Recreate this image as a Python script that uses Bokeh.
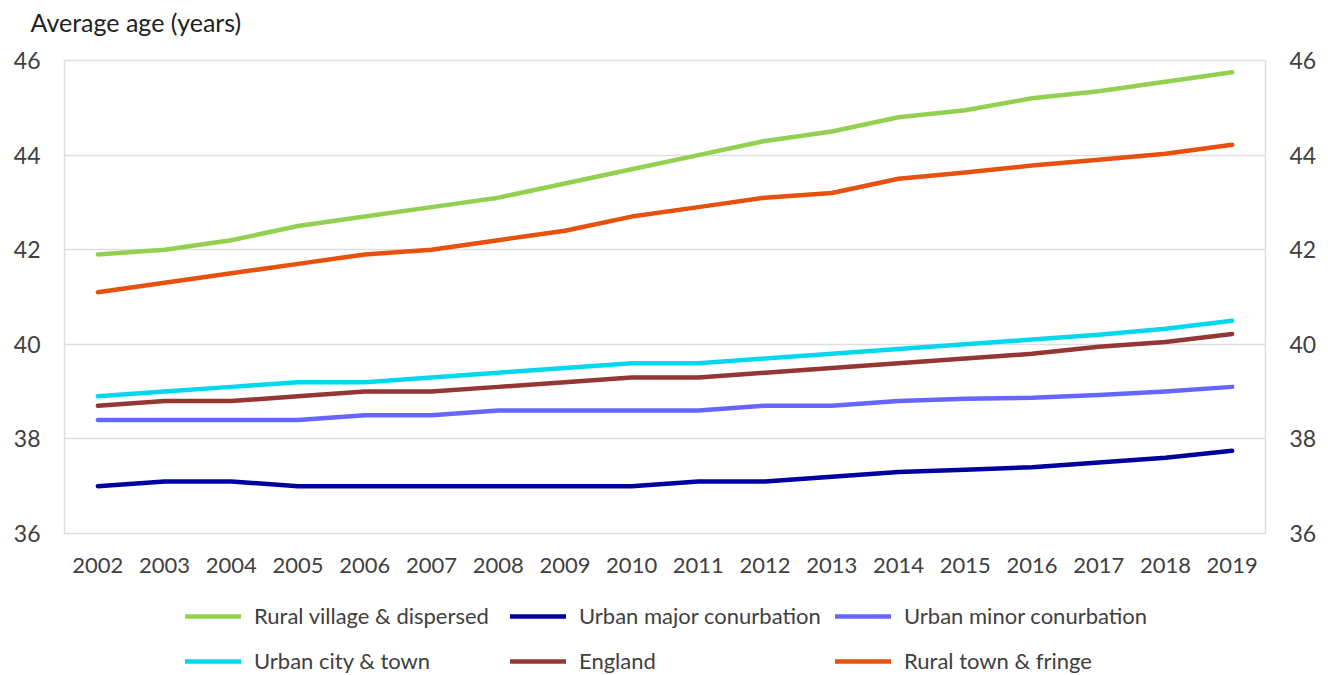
from bokeh.plotting import figure
from bokeh.layouts import column
from bokeh.models import Legend, LegendItem, LinearAxis, Range1d, FactorRange, Title, FixedTicker
from bokeh.embed import file_html
from bokeh.resources import INLINE

years = [str(y) for y in range(2002, 2020)]
rural_village = [41.9, 42.0, 42.2, 42.5, 42.7, 42.9, 43.1, 43.4, 43.7, 44.0, 44.3, 44.5, 44.8, 44.95, 45.2, 45.35, 45.55, 45.75]
urban_major = [37.0, 37.1, 37.1, 37.0, 37.0, 37.0, 37.0, 37.0, 37.0, 37.1, 37.1, 37.2, 37.3, 37.35, 37.4, 37.5, 37.6, 37.75]
urban_minor = [38.4, 38.4, 38.4, 38.4, 38.5, 38.5, 38.6, 38.6, 38.6, 38.6, 38.7, 38.7, 38.8, 38.85, 38.87, 38.93, 39.0, 39.1]
urban_city = [38.9, 39.0, 39.1, 39.2, 39.2, 39.3, 39.4, 39.5, 39.6, 39.6, 39.7, 39.8, 39.9, 40.0, 40.1, 40.2, 40.33, 40.5]
england = [38.7, 38.8, 38.8, 38.9, 39.0, 39.0, 39.1, 39.2, 39.3, 39.3, 39.4, 39.5, 39.6, 39.7, 39.8, 39.95, 40.05, 40.22]
rural_town = [41.1, 41.3, 41.5, 41.7, 41.9, 42.0, 42.2, 42.4, 42.7, 42.9, 43.1, 43.2, 43.5, 43.63, 43.78, 43.9, 44.03, 44.22]
y_ticks = [36, 38, 40, 42, 44, 46]

series = [
    ("Rural village & dispersed", rural_village, "#92D050"),
    ("Urban major conurbation", urban_major, "#0000A0"),
    ("Urban minor conurbation", urban_minor, "#6666FF"),
    ("Urban city & town", urban_city, "#00D8F0"),
    ("England", england, "#943634"),
    ("Rural town & fringe", rural_town, "#E8500E"),
]
legend_rows = [
    ["Rural village & dispersed", "Urban major conurbation", "Urban minor conurbation"],
    ["Urban city & town", "England", "Rural town & fringe"],
]

FONT = "Lato"
TXT = "#404040"

# ---- main chart ----
p = figure(width=1328, height=590, x_range=FactorRange(*years, range_padding=0),
           y_range=Range1d(36, 46), output_backend="svg", toolbar_location=None,
           min_border_left=64, min_border_right=63, min_border_top=60, min_border_bottom=57)

# spacer between frame and title (panels stack outward from the frame)
p.add_layout(Title(text=" ", text_font_size="20px", standoff=0), "above")
t = Title(text="Average age (years)", text_font=FONT, text_font_size="25px",
          text_font_style="normal", text_color="#222222", align="left", offset=-34, standoff=0)
p.add_layout(t, "above")

for name, vals, col in series:
    p.line(years, vals, line_color=col, line_width=4.5, line_cap="round", line_join="round")

p.yaxis.ticker = FixedTicker(ticks=y_ticks)
right = LinearAxis(ticker=FixedTicker(ticks=y_ticks))
p.add_layout(right, "right")

for ax in p.yaxis + p.xaxis:
    ax.axis_line_color = None
    ax.major_tick_line_color = None
    ax.minor_tick_line_color = None
    ax.major_tick_out = 0
    ax.major_tick_in = 0
    ax.major_label_text_font = FONT
    ax.major_label_text_color = TXT
for ax in p.yaxis:
    ax.major_label_text_font_size = "23px"
    ax.major_label_standoff = 24
p.xaxis.major_label_text_font_size = "22px"
p.xaxis.major_label_standoff = 24

p.xgrid.grid_line_color = None
p.ygrid.grid_line_color = "#DEDEDE"
p.ygrid.grid_line_width = 1.5
p.outline_line_color = "#DEDEDE"
p.outline_line_width = 1.5

# ---- legend strip (separate figure; legend drawn inside its frame) ----
# same series drawn again, but outside this strip's y range, so only legend glyphs show
lg = figure(width=1328, height=85, x_range=FactorRange(*years, range_padding=0),
            y_range=Range1d(0, 1), output_backend="svg", toolbar_location=None,
            min_border_left=0, min_border_right=0, min_border_top=0, min_border_bottom=0)
lg.axis.visible = False
lg.grid.grid_line_color = None
lg.outline_line_color = None

leg_renderers = {}
for name, vals, col in series:
    leg_renderers[name] = lg.line(years, vals, line_color=col, line_width=4.5, line_cap="round")

for row, ypos in zip(legend_rows, [46, 1]):
    items = [LegendItem(label=n, renderers=[leg_renderers[n]]) for n in row]
    leg = Legend(items=items, orientation="horizontal", location=(121, ypos),
                 label_text_font=FONT, label_text_font_size="22px", label_text_color=TXT,
                 glyph_width=56, glyph_height=24, label_standoff=13, spacing=13,
                 label_width=243, label_height=24,
                 border_line_color=None, background_fill_alpha=0, padding=0, margin=0)
    lg.add_layout(leg, "center")

layout = column(p, lg, spacing=0)
open("out.html", "w").write(file_html(layout, INLINE))
